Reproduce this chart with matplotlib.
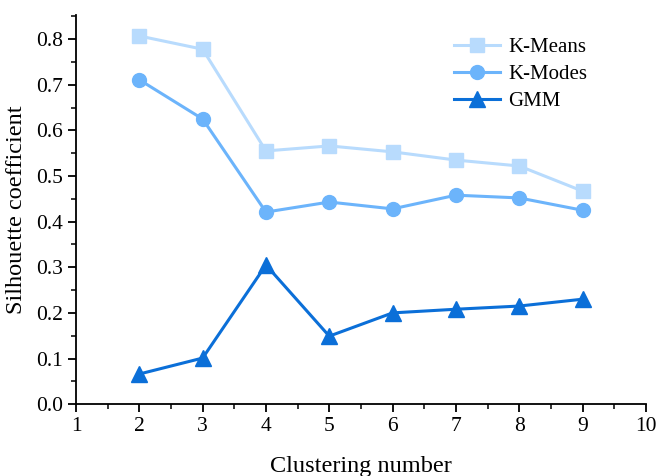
import matplotlib.pyplot as plt
from matplotlib.ticker import MultipleLocator

# Data
clusters = [2, 3, 4, 5, 6, 7, 8, 9]
kmeans = [0.807, 0.778, 0.555, 0.566, 0.553, 0.535, 0.522, 0.467]
kmodes = [0.711, 0.625, 0.421, 0.443, 0.428, 0.458, 0.452, 0.425]
gmm = [0.066, 0.101, 0.305, 0.149, 0.200, 0.208, 0.215, 0.230]

plt.rcParams["font.family"] = ["Liberation Serif", "DejaVu Serif"]

fig = plt.figure(figsize=(6.57, 4.76), dpi=100)
ax = fig.add_axes([0.1157, 0.151, 0.8673, 0.8175])

ax.plot(clusters, kmeans, color="#b8dbfd", marker="s", markersize=10, linewidth=2.2, label="K-Means")
ax.plot(clusters, kmodes, color="#6cb4fb", marker="o", markersize=10, linewidth=2.2, label="K-Modes")
ax.plot(clusters, gmm, color="#0b6fd8", marker="^", markersize=11, linewidth=2.2, label="GMM")

ax.set_xlim(1, 10)
ax.set_ylim(0, 0.853)
ax.xaxis.set_major_locator(MultipleLocator(1))
ax.xaxis.set_minor_locator(MultipleLocator(0.5))
ax.yaxis.set_major_locator(MultipleLocator(0.1))
ax.yaxis.set_minor_locator(MultipleLocator(0.05))
ax.yaxis.set_major_formatter(plt.FormatStrFormatter("%.1f"))

ax.spines["top"].set_visible(False)
ax.spines["right"].set_visible(False)
ax.spines["left"].set_linewidth(1.3)
ax.spines["bottom"].set_linewidth(1.3)
ax.tick_params(which="major", direction="out", length=6, width=1.3, labelsize=15.5)
ax.tick_params(which="minor", direction="out", length=3.5, width=1.1)

ax.set_xlabel("Clustering number", fontsize=17.5, labelpad=14)
ax.set_ylabel("Silhouette coefficient", fontsize=17.5, labelpad=6)

ax.legend(loc="upper left", bbox_to_anchor=(0.63, 0.99), frameon=False, fontsize=15,
          handlelength=2.2, labelspacing=0.35, handletextpad=0.4)

fig.savefig("out.png", dpi=100)
